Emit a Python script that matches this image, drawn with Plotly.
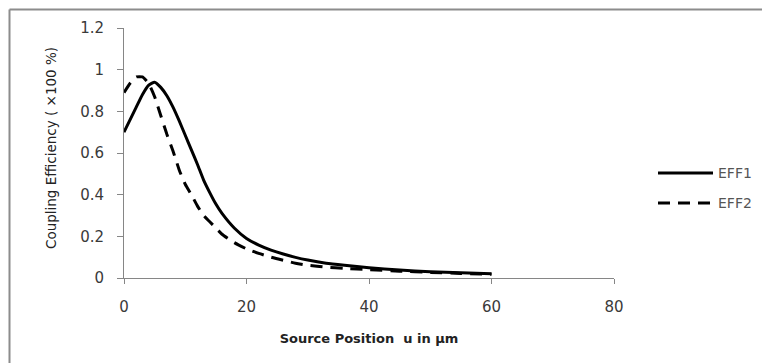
import plotly.graph_objects as go

# Data
x_eff1 = [0, 1, 2, 3, 4, 5, 6, 7, 8, 9, 10, 11, 12, 13, 14, 15, 16, 18, 20, 22, 24, 26, 28, 30, 33, 36, 40, 45, 50, 55, 60]
y_eff1 = [0.70, 0.76, 0.82, 0.88, 0.925, 0.94, 0.915, 0.875, 0.82, 0.755, 0.685, 0.615, 0.545, 0.47, 0.41, 0.355, 0.31, 0.24, 0.19, 0.158, 0.134, 0.115, 0.099, 0.086, 0.071, 0.061, 0.049, 0.038, 0.03, 0.025, 0.02]

x_eff2 = [0, 1, 2, 3, 4, 5, 6, 7, 8, 9, 10, 11, 12, 13, 14, 15, 16, 18, 20, 22, 24, 26, 28, 30, 33, 36, 40, 45, 50, 55, 60]
y_eff2 = [0.89, 0.935, 0.965, 0.965, 0.935, 0.87, 0.78, 0.69, 0.61, 0.52, 0.45, 0.40, 0.345, 0.30, 0.27, 0.24, 0.21, 0.17, 0.14, 0.118, 0.10, 0.085, 0.071, 0.061, 0.052, 0.046, 0.04, 0.033, 0.027, 0.022, 0.018]

series_names = ["EFF1", "EFF2"]
x_ticks = [0, 20, 40, 60, 80]
y_ticks = [0, 0.2, 0.4, 0.6, 0.8, 1, 1.2]
y_tick_labels = ["0", "0.2", "0.4", "0.6", "0.8", "1", "1.2"]
x_title = "Source Position  u in µm"
y_title = "Coupling Efficiency ( ×100 %)"

FONT = "'DejaVu Sans', sans-serif"
AXIS_COL = "#868686"
TXT_COL = "#3a3a3a"

fig = go.Figure()
fig.add_trace(go.Scatter(x=x_eff1, y=y_eff1, mode="lines", name=series_names[0],
                         line=dict(color="black", width=3, shape="spline", smoothing=0.5),
                         showlegend=False))
fig.add_trace(go.Scatter(x=x_eff2, y=y_eff2, mode="lines", name=series_names[1],
                         line=dict(color="black", width=3, dash="12px,8px", shape="spline", smoothing=0.5),
                         showlegend=False))

# page has an 8px body margin; figure coords = page coords - 8
OFF = 8
W, H = 770 - OFF, 363 - OFF
L, T = 124 - OFF, 28 - OFF
R = W - (614 - OFF)
B = H - (278 - OFF)
pw, ph = W - L - R, H - T - B


def px_to_paper_x(px):
    return (px - OFF - L) / pw


def px_to_paper_y(py):
    return (H - B - (py - OFF)) / ph


shapes = []
# chart frame (top and left edges visible)
shapes.append(dict(type="line", xref="paper", yref="paper",
                   x0=px_to_paper_x(9.5), x1=px_to_paper_x(790),
                   y0=px_to_paper_y(9.5), y1=px_to_paper_y(9.5),
                   line=dict(color="#8c8c8c", width=2)))
shapes.append(dict(type="line", xref="paper", yref="paper",
                   x0=px_to_paper_x(9.5), x1=px_to_paper_x(9.5),
                   y0=px_to_paper_y(9.5), y1=px_to_paper_y(380),
                   line=dict(color="#8c8c8c", width=2)))

annotations = []
# manual legend
legend_rows = [(series_names[0], 173, None), (series_names[1], 203, "12px,8px")]
for name, py, dash in legend_rows:
    ln = dict(color="black", width=3)
    if dash:
        ln["dash"] = dash
    shapes.append(dict(type="line", xref="paper", yref="paper",
                       x0=px_to_paper_x(658), x1=px_to_paper_x(713),
                       y0=px_to_paper_y(py), y1=px_to_paper_y(py), line=ln))
    annotations.append(dict(text=name, xref="paper", yref="paper",
                            x=px_to_paper_x(716), y=px_to_paper_y(py),
                            xanchor="left", yanchor="middle", showarrow=False,
                            font=dict(family=FONT, size=14, color="#555555")))

# y-axis title (positioned as in the reference)
annotations.append(dict(text=y_title, xref="paper", yref="paper",
                        x=px_to_paper_x(51), y=px_to_paper_y(148),
                        xanchor="center", yanchor="middle", textangle=-90, showarrow=False,
                        font=dict(family=FONT, size=13.5, color="#222222")))

fig.update_layout(
    width=W, height=H,
    margin=dict(l=L, r=R, t=T, b=B, autoexpand=False),
    paper_bgcolor="white", plot_bgcolor="white",
    font=dict(family=FONT, color=TXT_COL),
    shapes=shapes, annotations=annotations,
    showlegend=False,
)
fig.update_xaxes(range=[0, 80], tickvals=x_ticks, showgrid=False, zeroline=False,
                 showline=True, linecolor=AXIS_COL, linewidth=1,
                 ticks="outside", ticklen=5, tickcolor=AXIS_COL,
                 tickfont=dict(size=15, family=FONT, color=TXT_COL),
                 ticklabelstandoff=10,
                 title=dict(text="<b>" + x_title + "</b>", font=dict(size=13, family=FONT, color="#222222"),
                            standoff=18))
fig.update_yaxes(range=[0, 1.2], tickvals=y_ticks, ticktext=y_tick_labels, showgrid=False, zeroline=False,
                 showline=True, linecolor=AXIS_COL, linewidth=1,
                 ticks="outside", ticklen=6, tickcolor=AXIS_COL,
                 tickfont=dict(size=15, family=FONT, color=TXT_COL),
                 ticklabelstandoff=10)

fig.write_html("out.html")
